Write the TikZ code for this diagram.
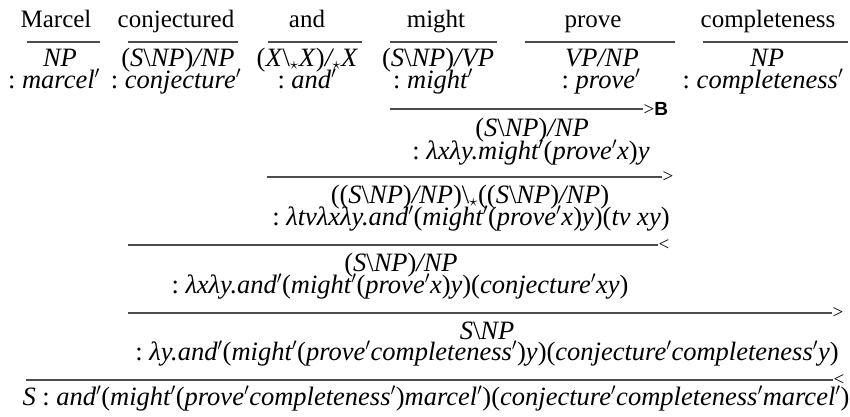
\documentclass[tikz,border=0pt]{standalone}
\usepackage{fontspec}
\setmainfont{Liberation Serif}
\setsansfont{Liberation Sans}
\usetikzlibrary{positioning}

\newcommand{\lp}{\textup{(}}
\newcommand{\rp}{\textup{)}}
\newcommand{\bsl}{\textup{\textbackslash}}
\newcommand{\cln}{\textup{:}\ }
\newcommand{\pr}{\ensuremath{'}}
\newcommand{\sstar}{\textsubscript{$\star$}}

\begin{document}
\begin{tikzpicture}[
    x=1pt, y=-1pt,
    word/.style={anchor=base, inner sep=0pt, font=\fontsize{25}{30}\selectfont},
    cat/.style={anchor=base, inner sep=0pt, font=\fontsize{26.5}{30}\selectfont\itshape},
    rule/.style={line width=1.4pt, draw=black!70},
    tag/.style={anchor=west, inner sep=0pt, font=\fontsize{19}{20}\selectfont}
]
\useasboundingbox (0,0) rectangle (850,416);

% Woerter
\node[word] (marcel) at (56,27) {Marcel};
\node[word] (conj) at (176,27) {conjectured};
\node[word] (and) at (307,27) {and};
\node[word] (might) at (436,27) {might};
\node[word] (prove) at (593,27) {prove};
\node[word] (compl) at (768,27) {completeness};

% Lexikon
\foreach \a/\b/\n in {27/100/1, 128/238/2, 268/362/3, 390/497/4, 525/675/5, 703/848/6}
    \draw[rule] (\a,42) coordinate (lexa\n) -- (\b,42) coordinate (lexb\n);

\node[cat] (c1) at (60,66) {NP};
\node[cat] (c2) at (178,66) {\lp S\bsl NP\rp/NP};
\node[cat] (c3) at (307,66) {\lp X\bsl\sstar X\rp/\sstar X};
\node[cat] (c4) at (438,66) {\lp S\bsl NP\rp/VP};
\node[cat] (c5) at (602,66) {VP/NP};
\node[cat] (c6) at (767,66) {NP};

\node[cat] (s1) at (54,88) {\cln marcel\pr};
\node[cat] (s2) at (176,88) {\cln conjecture\pr};
\node[cat] (s3) at (307,88) {\cln and\pr};
\node[cat] (s4) at (433,88) {\cln might\pr};
\node[cat] (s5) at (601,88) {\cln prove\pr};
\node[cat] (s6) at (763,88) {\cln completeness\pr};

% Komposition might + prove
\coordinate (r2a) at (390,109);
\coordinate (r2b) at (643,109);
\draw[rule] (r2a) -- (r2b) node[tag] (t2) {>\textsf{\textbf{B}}};
\node[cat] (c7) at (532,136) {\lp S\bsl NP\rp/NP};
\node[cat] (s7) at (531,159) {\cln λxλy.might\pr\lp prove\pr x\rp y};

% and + (might prove)
\coordinate (r3a) at (267,177);
\coordinate (r3b) at (662,177);
\draw[rule] (r3a) -- (r3b) node[tag] (t3) {>};
\node[cat] (c8) at (470,203) {\lp\lp S\bsl NP\rp/NP\rp\bsl\sstar\lp\lp S\bsl NP\rp/NP\rp};
\node[cat] (s8) at (471,225) {\cln λtvλxλy.and\pr\lp might\pr\lp prove\pr x\rp y\rp\lp tv xy\rp};

% conjectured + and might prove
\coordinate (r4a) at (128,245);
\coordinate (r4b) at (658,245);
\draw[rule] (r4a) -- (r4b) node[tag] (t4) {<};
\node[cat] (c9) at (401,271) {\lp S\bsl NP\rp/NP};
\node[cat] (s9) at (400,293) {\cln λxλy.and\pr\lp might\pr\lp prove\pr x\rp y\rp\lp conjecture\pr xy\rp};

% + completeness
\coordinate (r5a) at (128,313);
\coordinate (r5b) at (832,313);
\draw[rule] (r5a) -- (r5b) node[tag] (t5) {>};
\node[cat] (c10) at (487,339) {S\bsl NP};
\node[cat] (s10) at (487,360) {\cln λy.and\pr\lp might\pr\lp prove\pr completeness\pr\rp y\rp\lp conjecture\pr completeness\pr y\rp};

% Satz
\coordinate (r6a) at (26,380);
\coordinate (r6b) at (833,380);
\draw[rule] (r6a) -- (r6b) node[tag] (t6) {<};
\node[cat] (s11) at (436,405) {S \cln and\pr\lp might\pr\lp prove\pr completeness\pr\rp marcel\pr\rp\lp conjecture\pr completeness\pr marcel\pr\rp};

\end{tikzpicture}
\end{document}
